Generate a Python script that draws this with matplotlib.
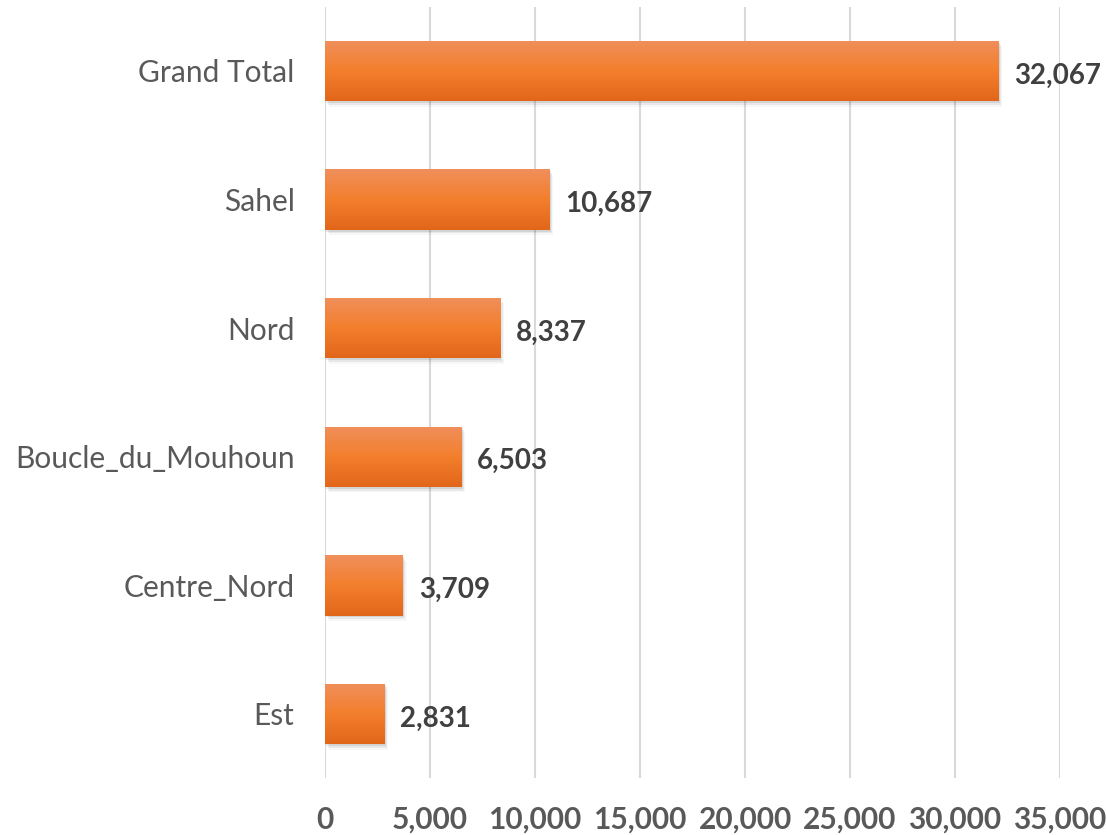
import numpy as np
import matplotlib.pyplot as plt
from matplotlib.colors import LinearSegmentedColormap
from matplotlib.patches import Rectangle

plt.rcParams['font.family'] = ['Lato', 'DejaVu Sans']

categories = ['Grand Total', 'Sahel', 'Nord', 'Boucle_du_Mouhoun', 'Centre_Nord', 'Est']
values = [32067, 10687, 8337, 6503, 3709, 2831]
xticks = [0, 5000, 10000, 15000, 20000, 25000, 30000, 35000]

fig = plt.figure(figsize=(11.07, 8.35), dpi=100)
ax = fig.add_axes([0.2936, 0.068, 0.664, 0.924])

grad = LinearSegmentedColormap.from_list('og', ['#e2661a', '#f37f2c', '#f08f5c'])
pos = np.arange(len(categories))
h = 0.47
bars = ax.barh(pos, values, height=h, color='#f37f2c', zorder=3)
for b in bars:
    x0, y0 = b.get_x(), b.get_y()
    w, hh = b.get_width(), b.get_height()
    # soft shadow, down and to the right
    for k, a in enumerate([0.09, 0.06, 0.03]):
        off = 60 * (k + 1)
        sh = Rectangle((x0 + off, y0 + 0.014 * (k + 1)), w, hh, color='black', alpha=a, lw=0, zorder=2)
        ax.add_patch(sh)
    # y axis is inverted: first row sits at the top of the bar
    im = ax.imshow(np.linspace(1, 0, 100).reshape(-1, 1), cmap=grad, aspect='auto',
                   extent=[x0, x0 + w, y0, y0 + hh], origin='lower', zorder=4)
    im.set_clip_path(b)

for p, v in zip(pos, values):
    ax.text(v + 750, p + 0.035, f'{v:,}', va='center', ha='left', fontsize=20,
            fontweight='bold', color='#404040')

ax.set_ylim(5.5, -0.5)
ax.set_xlim(0, 35000)
ax.set_xticks(xticks)
ax.set_xticklabels([f'{t:,}' for t in xticks], fontsize=21.5, fontweight='bold', color='#595959')
ax.set_yticks(pos)
ax.set_yticklabels(categories, fontsize=21.5, color='#595959')
ax.tick_params(length=0, axis='x', pad=20)
ax.tick_params(length=0, axis='y', pad=22)
ax.grid(axis='x', color='#d9d9d9', lw=1.5, zorder=0)
for s in ax.spines.values():
    s.set_visible(False)

fig.savefig('out.png', dpi=100)
